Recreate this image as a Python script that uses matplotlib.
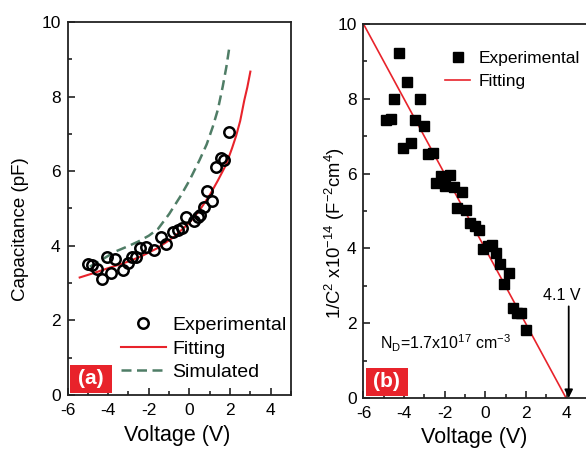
import matplotlib
matplotlib.use("Agg")
import matplotlib.pyplot as plt
from matplotlib.patches import Rectangle
from matplotlib.ticker import MultipleLocator

plt.rcParams['font.family'] = ['Liberation Sans', 'DejaVu Sans']
plt.rcParams['axes.unicode_minus'] = False
plt.rcParams['mathtext.fontset'] = 'custom'
plt.rcParams['mathtext.rm'] = 'Liberation Sans'
plt.rcParams['mathtext.it'] = 'Liberation Sans'

# ---- (a) C-V data ----
cv_volt = [-4.98, -4.78, -4.55, -4.32, -4.08, -3.88, -3.67, -3.26, -3.04, -2.85,
           -2.64, -2.45, -2.12, -1.76, -1.40, -1.17, -0.81, -0.57, -0.35, -0.17,
           0.25, 0.42, 0.50, 0.72, 0.87, 1.10, 1.31, 1.56, 1.72, 1.93]
cv_cap = [3.50, 3.48, 3.38, 3.11, 3.69, 3.28, 3.64, 3.35, 3.53, 3.71,
          3.71, 3.95, 3.98, 3.89, 4.23, 4.04, 4.38, 4.41, 4.47, 4.76,
          4.67, 4.76, 4.82, 5.03, 5.46, 5.21, 6.10, 6.35, 6.30, 7.05]

fit_volt = [-5.4, -4.7, -4.0, -3.2, -2.4, -1.6, -0.75, 0.0, 0.5, 1.0, 1.4, 1.8,
            2.1, 2.3, 2.5, 2.7, 2.85, 3.0]
fit_cap = [3.15, 3.27, 3.40, 3.54, 3.71, 3.93, 4.24, 4.62, 4.95, 5.36, 5.75, 6.17,
           6.62, 6.95, 7.35, 7.90, 8.25, 8.67]

sim_volt = [-4.9, -4.3, -3.67, -3.1, -2.53, -2.0, -1.55, -1.0, -0.45, 0.0, 0.5,
            0.85, 1.15, 1.4, 1.64, 1.82, 1.97]
sim_cap = [3.44, 3.63, 3.84, 3.97, 4.11, 4.27, 4.45, 4.85, 5.32, 5.75, 6.30,
           6.72, 7.19, 7.65, 8.27, 8.80, 9.34]

# ---- (b) Mott-Schottky data ----
ms_volt = [-4.87, -4.67, -4.48, -4.27, -4.05, -3.86, -3.64, -3.45, -3.24, -3.00,
           -2.82, -2.60, -2.41, -2.19, -1.98, -1.76, -1.57, -1.40, -1.15, -0.96,
           -0.75, -0.52, -0.30, -0.13, 0.15, 0.31, 0.52, 0.72, 0.90, 1.14,
           1.35, 1.55, 1.75, 1.99]
ms_inv = [7.43, 7.45, 8.00, 9.23, 6.68, 8.45, 6.83, 7.43, 8.00, 7.28,
          6.52, 6.56, 5.76, 5.94, 5.68, 5.96, 5.65, 5.07, 5.51, 5.02,
          4.69, 4.61, 4.50, 3.99, 4.06, 4.10, 3.89, 3.57, 3.05, 3.33,
          2.41, 2.27, 2.28, 1.82]
ms_fit_volt = [-6.0, 3.97]
ms_fit_inv = [10.0, 0.0]
v_bi = 4.1

RED = '#e8232b'
GREEN = '#4f7d66'

fig = plt.figure(figsize=(5.86, 4.49), dpi=100)
ax1 = fig.add_axes([0.1152, 0.1203, 0.3814, 0.8307])
ax2 = fig.add_axes([0.6203, 0.1136, 0.3814, 0.8329])


def style_axis(ax):
    ax.set_xlim(-6, 5)
    ax.set_ylim(0, 10)
    ax.xaxis.set_major_locator(MultipleLocator(2))
    ax.xaxis.set_minor_locator(MultipleLocator(1))
    ax.yaxis.set_major_locator(MultipleLocator(2))
    ax.yaxis.set_minor_locator(MultipleLocator(1))
    ax.tick_params(which='both', direction='in', top=False, right=False,
                   labelsize=12.5, width=1.2, color='#222222')
    ax.tick_params(which='major', length=5)
    ax.tick_params(which='minor', length=3)
    ax.tick_params(axis='x', which='major', pad=6)
    ax.tick_params(axis='y', which='major', pad=5)
    for s in ax.spines.values():
        s.set_linewidth(1.3)
        s.set_color('#222222')
    ax.set_xlabel('Voltage (V)', fontsize=15.5)


def panel_tag(ax, label):
    ax.add_patch(Rectangle((0.011, 0.005), 0.186, 0.075, transform=ax.transAxes,
                           facecolor=RED, edgecolor='none', zorder=5))
    ax.text(0.104, 0.043, label, transform=ax.transAxes, color='white',
            fontsize=15, fontweight='bold', ha='center', va='center', zorder=6)


# (a)
style_axis(ax1)
ax1.plot(cv_volt, cv_cap, 'o', mfc='none', mec='black', mew=1.8, ms=7.5,
         label='Experimental', zorder=3)
ax1.plot(fit_volt, fit_cap, '-', color=RED, lw=1.5, label='Fitting')
ax1.plot(sim_volt, sim_cap, '--', color=GREEN, lw=1.8, dashes=(4, 2.2),
         label='Simulated')
ax1.set_ylabel('Capacitance (pF)', fontsize=13.5)
ax1.yaxis.set_label_coords(-0.172, 0.445)
ax1.xaxis.set_label_coords(0.49, -0.08)
ax1.legend(loc='upper left', bbox_to_anchor=(0.239, 0.21), frameon=False,
           fontsize=14, handlelength=2.3, handletextpad=0.35,
           labelspacing=0.3, borderpad=0, borderaxespad=0)
panel_tag(ax1, '(a)')

# (b)
style_axis(ax2)
ax2.plot(ms_volt, ms_inv, 's', color='black', ms=7, label='Experimental',
         zorder=3)
ax2.plot(ms_fit_volt, ms_fit_inv, '-', color=RED, lw=1.2, label='Fitting')
ax2.set_ylabel(r'1/C$^2$ x10$^{-14}$ (F$^{-2}$cm$^4$)', fontsize=13.3)
ax2.yaxis.set_label_coords(-0.072, 0.44)
ax2.xaxis.set_label_coords(0.494, -0.078)
ax2.set_yticks([0, 2, 4, 6, 8, 10])
ax2.legend(loc='upper left', bbox_to_anchor=(0.365, 0.928), frameon=False,
           fontsize=12.5, handlelength=1.45, handletextpad=0.5,
           labelspacing=0.45, borderpad=0, borderaxespad=0)
ax2.annotate('', xy=(v_bi, 0.0), xytext=(v_bi, 2.45),
             arrowprops=dict(arrowstyle='-|>', color='black', lw=1.3,
                             mutation_scale=12, shrinkA=0, shrinkB=0))
ax2.text(v_bi - 0.35, 2.75, f'{v_bi} V', fontsize=11.5, ha='center',
         va='center')
ax2.text(-5.2, 1.47, r'N$_\mathrm{D}$=1.7x10$^{17}$ cm$^{-3}$', fontsize=11.5,
         ha='left', va='center')
panel_tag(ax2, '(b)')

fig.savefig('out.png', dpi=100)
